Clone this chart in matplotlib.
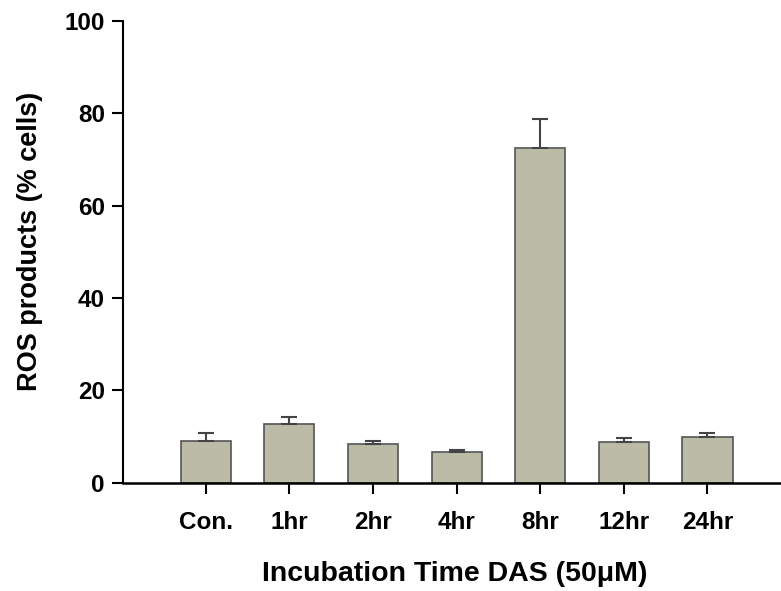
import matplotlib
matplotlib.use("Agg")
import matplotlib.pyplot as plt

# ROS products after DAS treatment, % of cells (mean and upper error)
labels = ["Con.", "1hr", "2hr", "4hr", "8hr", "12hr", "24hr"]
ros_mean = [9.1, 12.7, 8.4, 6.6, 72.4, 8.8, 9.9]
ros_err = [1.6, 1.6, 0.7, 0.5, 6.3, 0.8, 0.9]

plt.rcParams['font.family'] = ['Liberation Sans', 'DejaVu Sans']
plt.rcParams['font.weight'] = 'bold'

fig = plt.figure(figsize=(7.81, 5.91), dpi=100)
ax = fig.add_axes([0.1575, 0.183, 0.85, 0.782])

x = list(range(len(labels)))
ax.bar(x, ros_mean, width=0.6, color="#bbbba8", edgecolor="#555555", linewidth=1.2, zorder=2)
ax.errorbar(x, ros_mean, yerr=[[0] * len(ros_err), ros_err], fmt="none",
            ecolor="#444444", elinewidth=1.5, capsize=5.5, capthick=1.5, zorder=3)

ax.set_xlim(-0.99, 6.95)
ax.set_ylim(0, 100)
ax.set_yticks([0, 20, 40, 60, 80, 100])
ax.set_xticks(x)
ax.set_xticklabels(labels)

ax.spines['top'].set_visible(False)
ax.spines['right'].set_visible(False)
ax.spines['left'].set_linewidth(1.5)
ax.spines['bottom'].set_linewidth(1.8)
ax.tick_params(axis='both', direction='out', length=8, width=1.5, labelsize=17.5, pad=5)
ax.tick_params(axis='x', pad=12)

ax.set_ylabel("ROS products (% cells)", fontsize=19.5, fontweight='bold')
ax.yaxis.set_label_coords(-0.12, 0.523)
ax.set_xlabel("Incubation Time DAS (50\u03bcM)", fontsize=20.5, fontweight='bold', labelpad=20)

fig.savefig("out.png", dpi=100)
